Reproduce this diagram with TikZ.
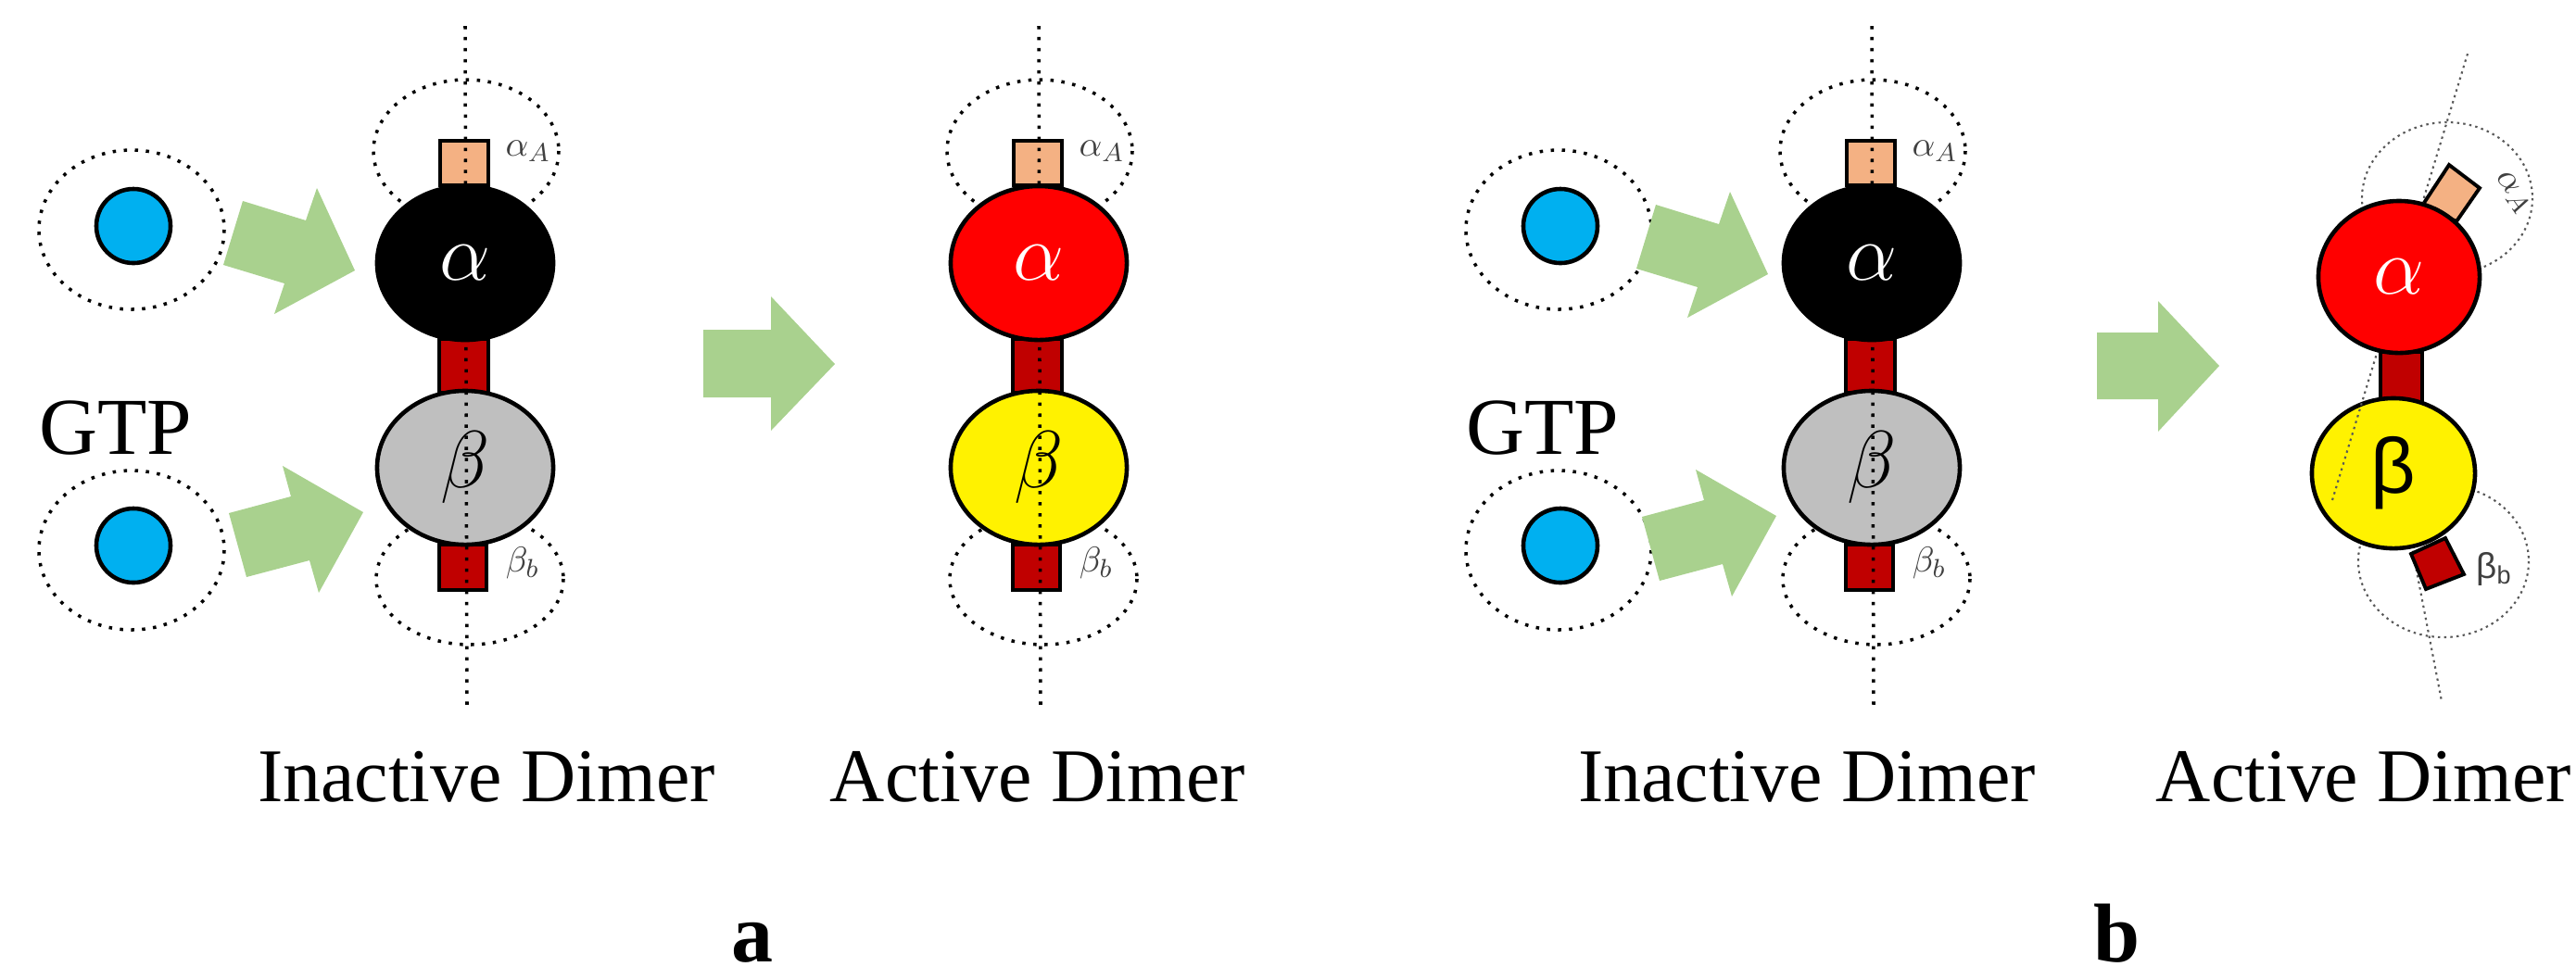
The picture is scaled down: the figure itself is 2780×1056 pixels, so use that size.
\documentclass[tikz,border=0pt]{standalone}
\usepackage{fontspec}
\setmainfont{Liberation Serif}
\newfontfamily\sansb{Liberation Sans}
\usetikzlibrary{shapes.geometric}
\definecolor{gtpblue}{HTML}{00B0F0}
\definecolor{arrgreen}{HTML}{A9D18E}
\definecolor{peach}{HTML}{F4B183}
\definecolor{dred}{HTML}{C00000}
\definecolor{lgray}{HTML}{BFBFBF}
\definecolor{lblgray}{HTML}{404040}
\tikzset{
  dotl/.style={line width=1pt, dash pattern=on 1pt off 2.4pt},
  dotthin/.style={line width=0.6pt, gray!70!black, dash pattern=on 0.7pt off 1.2pt},
  sub/.style={line width=1.1pt, draw=black},
  glob/.style={ellipse, draw=black, line width=1.3pt, inner sep=0pt, minimum width=1.9cm, minimum height=1.66cm},
  big/.style={font=\fontsize{27}{27}\selectfont},
  small/.style={font=\fontsize{11}{11}\selectfont, text=lblgray},
  lbl/.style={font=\fontsize{23.3}{24}\selectfont, anchor=base},
  garrow/.style={fill=arrgreen, draw=none},
}
% #1 cx, #2 prefix, #3 alpha fill, #4 beta fill
\newcommand{\Dimer}[4]{%
  \draw[dotl] ({#1+1},163) ellipse [x radius=100, y radius=77];
  \draw[dotl] ({#1+5},625) ellipse [x radius=101, y radius=71];
  \draw[sub, fill=peach] ({#1-27},152) rectangle ({#1+25},200);
  \draw[sub, fill=dred] ({#1-28},366) rectangle ({#1+25},424);
  \draw[sub, fill=dred] ({#1-28},588) rectangle ({#1+23},637);
  \node[glob, fill=#4, big] (#2b) at (#1,505) {$\beta$};
  \coordinate (#2top) at (#1,28);
  \coordinate (#2bot) at ({#1+2},762);
  \draw[dotl] (#2top) -- (#2bot);
  \node[glob, fill=#3, big, text=white] (#2a) at (#1,284) {$\alpha$};
  \node[small] (#2la) at ({#1+68},163) {$\alpha_A$};
  \node[small] (#2lb) at ({#1+62},608) {$\beta_b$};
}
\newcommand{\GTPgroup}[2]{% #1 dx, #2 prefix
  \draw[dotl] ({#1+142},248) ellipse [x radius=100, y radius=86];
  \draw[dotl] ({#1+142},594) ellipse [x radius=100, y radius=86];
  \node[circle, draw, line width=1.3pt, fill=gtpblue, minimum width=0.8cm, inner sep=0pt] (#2g1) at ({#1+144},244) {};
  \node[circle, draw, line width=1.3pt, fill=gtpblue, minimum width=0.8cm, inner sep=0pt] (#2g2) at ({#1+144},589) {};
  \node[font=\fontsize{24.8}{25}\selectfont, anchor=base west, inner sep=0pt] (#2gtp) at ({#1+42},490) {GTP};
}
\newcommand{\TwoArrows}[2]{% #1 dx #2 dy
  \begin{scope}[shift={(#1,#2)}]
  \fill[garrow] (262,217) -- (330,238) -- (342,203) -- (383,292) -- (296,339) -- (307,306) -- (241,286) -- cycle;
  \fill[garrow] (247,554) -- (314,536) -- (305,503) -- (392,553) -- (344,640) -- (334,605) -- (266,623) -- cycle;
  \end{scope}
}
\begin{document}
\begin{tikzpicture}[x=0.01cm, y=-0.01cm]
\useasboundingbox (0,0) rectangle (2780,1056);
% panel a
\GTPgroup{0}{A}
\TwoArrows{0}{0}
\Dimer{502}{A1}{black}{lgray}
\fill[garrow] (759,356) -- (832,356) -- (832,320) -- (901,393) -- (832,465) -- (832,429) -- (759,429) -- cycle;
\Dimer{1121}{A2}{red}{yellow}
\node[lbl] (la1) at (525,865) {Inactive Dimer};
\node[lbl] (la2) at (1120,865) {Active Dimer};
\node[font=\fontsize{25.6}{26}\bfseries\selectfont, anchor=base] (pa) at (812,1038) {a};
% panel b
\GTPgroup{1540}{B}
\TwoArrows{1525}{4}
\Dimer{2020}{B1}{black}{lgray}
\fill[garrow] (2263,359) -- (2329,359) -- (2329,325) -- (2395,395) -- (2329,466) -- (2329,431) -- (2263,431) -- cycle;
% tilted active dimer
\draw[dotthin] (2641,214) ellipse [x radius=92, y radius=82];
\draw[dotthin] (2637,606) ellipse [x radius=92, y radius=82];
\coordinate (lt1) at (2600,575);
\coordinate (lt2) at (2635,757);
\draw[dotthin] (lt1) -- (lt2);
\draw[sub, fill=dred] (2602,598) -- (2639,581) -- (2659,620) -- (2618,636) -- cycle;
\draw[sub, fill=dred] (2569,380) rectangle (2614,434);
\draw[sub, fill=peach] (2614,222) -- (2643,178) -- (2676,203) -- (2651,239) -- cycle;
\node[ellipse, draw=black, line width=1.3pt, inner sep=0pt, minimum width=1.76cm, minimum height=1.62cm, fill=yellow, font=\sansb\fontsize{24}{24}\selectfont] (Bb) at (2583,511) {β};
\coordinate (ut1) at (2663,58);
\coordinate (ut2) at (2517,540);
\draw[dotthin] (ut1) -- (ut2);
\node[ellipse, draw=black, line width=1.3pt, inner sep=0pt, minimum width=1.74cm, minimum height=1.64cm, fill=red, text=white, big] (Ba) at (2589,299) {$\alpha$};
\node[small, rotate=-55, inner sep=0pt] (Bla) at (2712,208) {$\alpha_A$};
\node[small, font=\sansb\fontsize{11}{11}\selectfont] (Blb) at (2692,614) {β\textsubscript{b}};
\node[lbl] (lb1) at (1950,865) {Inactive Dimer};
\node[lbl] (lb2) at (2551,865) {Active Dimer};
\node[font=\fontsize{25.6}{26}\bfseries\selectfont, anchor=base] (pb) at (2285,1038) {b};
\end{tikzpicture}
\end{document}
